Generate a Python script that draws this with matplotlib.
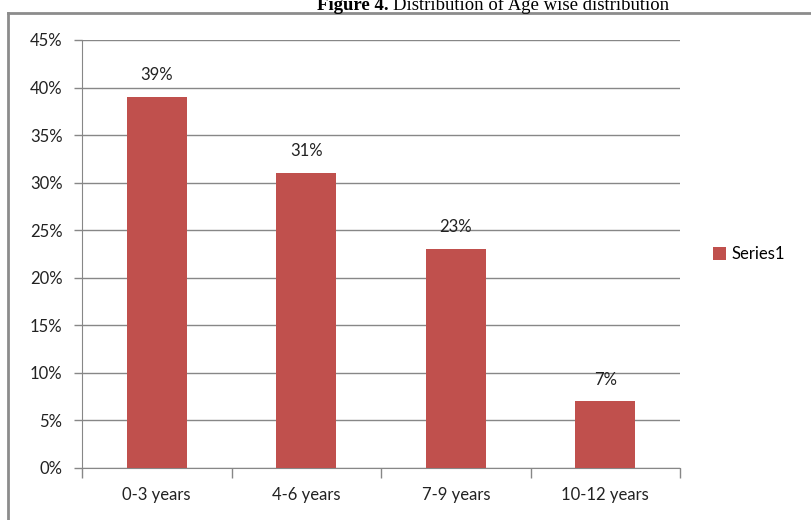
import matplotlib.pyplot as plt
from matplotlib.lines import Line2D
from matplotlib.ticker import FuncFormatter, MultipleLocator

# Data
categories = ['0-3 years', '4-6 years', '7-9 years', '10-12 years']
values = [39, 31, 23, 7]  # percent
series_name = 'Series1'

bar_color = '#C0504D'
grid_color = '#878787'
font = 'Lato'

fig = plt.figure(figsize=(8.12, 5.2), dpi=100)
ax = fig.add_axes([82 / 812, 1 - 468 / 520, 598 / 812, 428 / 520])

x = list(range(len(categories)))
bars = ax.bar(x, values, width=0.4, color=bar_color, label=series_name, zorder=3)

# Value labels above bars
for xi, v in zip(x, values):
    ax.annotate(f"{v}%", (xi, v), xytext=(0, 10), textcoords='offset points',
                ha='center', va='bottom', fontsize=12, family=font, color='#222222')

ax.set_xlim(-0.5, len(categories) - 0.5)
ax.set_ylim(0, 45)
ax.yaxis.set_major_locator(MultipleLocator(5))
ax.yaxis.set_major_formatter(FuncFormatter(lambda v, p: f"{int(v)}%"))
ax.yaxis.grid(True, color=grid_color, linewidth=1, zorder=0)

ax.set_xticks(x)
ax.set_xticklabels(categories, family=font, fontsize=12)
ax.set_xticks([i + 0.5 for i in range(-1, len(categories))], minor=True)
ax.tick_params(axis='x', which='major', length=0, pad=14)
ax.tick_params(axis='x', which='minor', length=7, color=grid_color, width=1)
ax.tick_params(axis='y', length=6, color=grid_color, width=1, pad=8)
for lbl in ax.get_yticklabels():
    lbl.set_family(font)
    lbl.set_fontsize(12)
ax.tick_params(which='major', axis='both', labelcolor='#222222')

for s in ['top', 'right']:
    ax.spines[s].set_visible(False)
ax.spines['left'].set_color(grid_color)
ax.spines['bottom'].set_color(grid_color)

# Legend
ax.legend(loc='center left', bbox_to_anchor=(1.03, 0.5), frameon=False,
          prop={'family': font, 'size': 12}, handlelength=0.8, handleheight=0.8,
          handletextpad=0.3)

# Outer chart border (partially visible)
fig.add_artist(Line2D([8 / 812, 8 / 812], [0, 1 - 13 / 520], color='#8c8c8c', lw=2))
fig.add_artist(Line2D([8 / 812, 1], [1 - 13 / 520, 1 - 13 / 520], color='#8c8c8c', lw=2))

# Title (cut off at top, as in the source figure)
fig.text(389 / 812, 1 - 10 / 520, 'Figure 4.', family='Liberation Serif', fontsize=13.5,
         fontweight='bold', ha='right', va='baseline')
fig.text(393 / 812, 1 - 10 / 520, 'Distribution of Age wise distribution',
         family='Liberation Serif', fontsize=13.5, ha='left', va='baseline')

fig.savefig('out.png', dpi=100)
